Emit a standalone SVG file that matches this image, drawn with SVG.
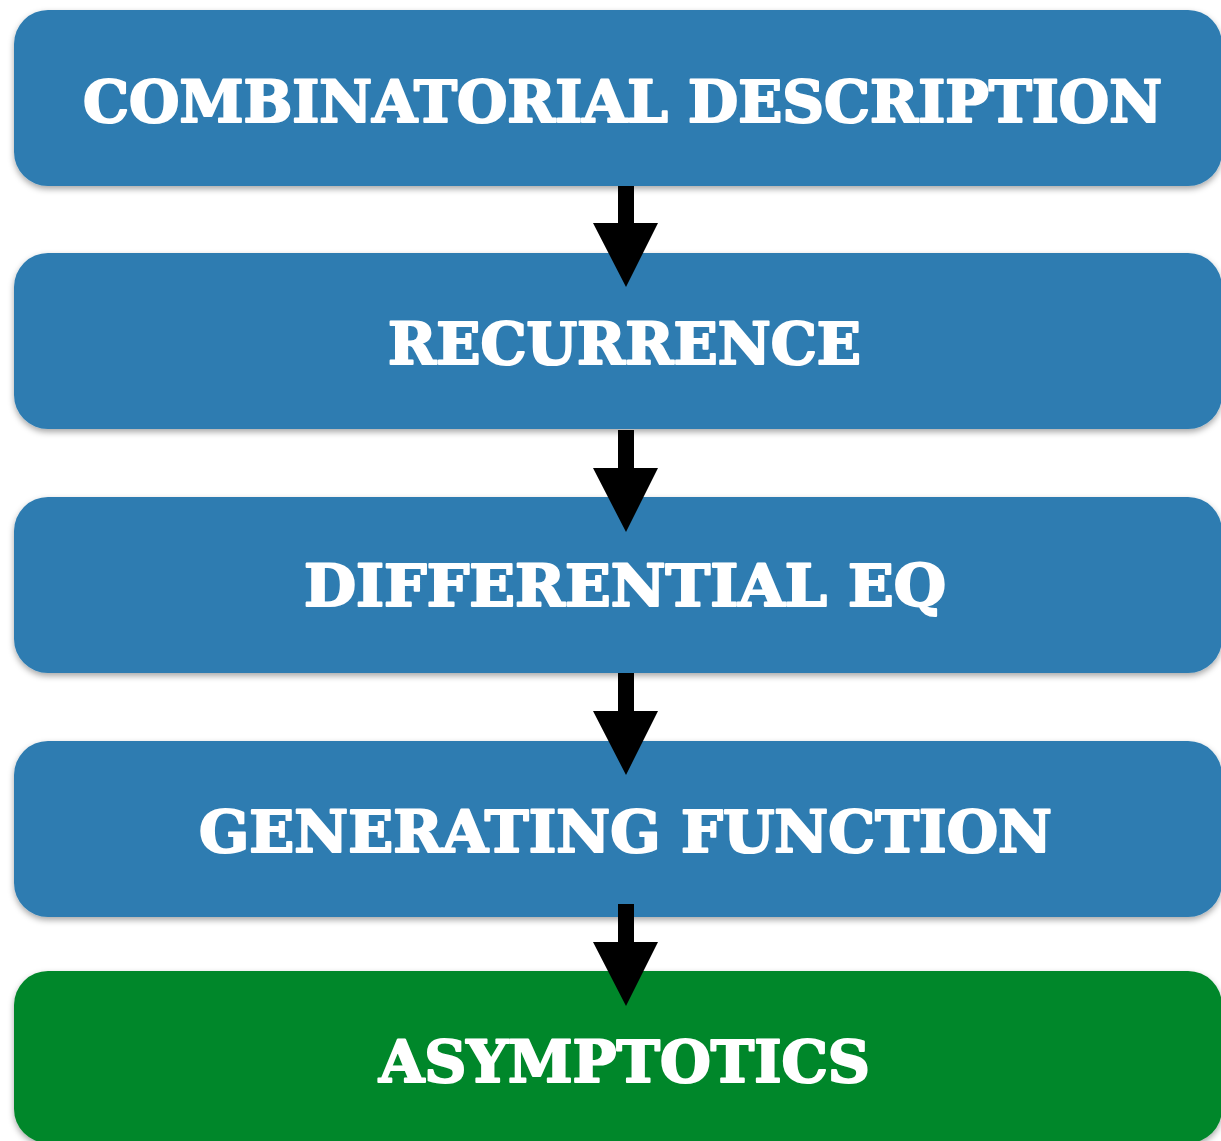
<svg xmlns="http://www.w3.org/2000/svg" width="1221" height="1141" viewBox="0 0 1221 1141">
<defs>
<filter id="sh" x="-5%" y="-20%" width="110%" height="140%">
<feDropShadow dx="0" dy="3" stdDeviation="3" flood-color="#000" flood-opacity="0.35"/>
</filter>
<style>
.box{filter:url(#sh)}
.blue{fill:#2d7cb1}
.green{fill:#03872a}
.lbl{font-family:"DejaVu Serif","Liberation Serif",serif;font-weight:bold;font-size:58px;fill:#ffffff;stroke:#ffffff;stroke-width:2.2;stroke-linejoin:round}
.arr{fill:#000000}
</style>
</defs>
<rect width="1221" height="1141" fill="#ffffff"/>
<g id="node-combinatorial">
<rect class="box blue" x="14" y="10" width="1208" height="176" rx="34"/>
<text class="lbl" x="83" y="122" textLength="1079" lengthAdjust="spacingAndGlyphs">COMBINATORIAL DESCRIPTION</text>
</g>
<g id="node-recurrence">
<rect class="box blue" x="14" y="253" width="1208" height="176" rx="34"/>
<text class="lbl" x="388" y="364" textLength="473" lengthAdjust="spacingAndGlyphs">RECURRENCE</text>
</g>
<g id="node-differential">
<rect class="box blue" x="14" y="497" width="1208" height="176" rx="34"/>
<text class="lbl" x="304" y="606" textLength="642" lengthAdjust="spacingAndGlyphs">DIFFERENTIAL EQ</text>
</g>
<g id="node-generating">
<rect class="box blue" x="14" y="741" width="1208" height="176" rx="34"/>
<text class="lbl" x="199" y="852" textLength="853" lengthAdjust="spacingAndGlyphs">GENERATING FUNCTION</text>
</g>
<g id="node-asymptotics">
<rect class="box green" x="14" y="971" width="1208" height="172" rx="34"/>
<text class="lbl" x="379" y="1082" textLength="491" lengthAdjust="spacingAndGlyphs">ASYMPTOTICS</text>
</g>
<g id="connectors">
<polygon class="arr" points="618,186 634,186 634,223 658,223 626,287 593,223 618,223"/>
<polygon class="arr" points="618,430 634,430 634,468 658,468 626,532 593,468 618,468"/>
<polygon class="arr" points="618,673 634,673 634,711 658,711 626,775 593,711 618,711"/>
<polygon class="arr" points="618,904 634,904 634,942 658,942 626,1006 593,942 618,942"/>
</g>
</svg>
